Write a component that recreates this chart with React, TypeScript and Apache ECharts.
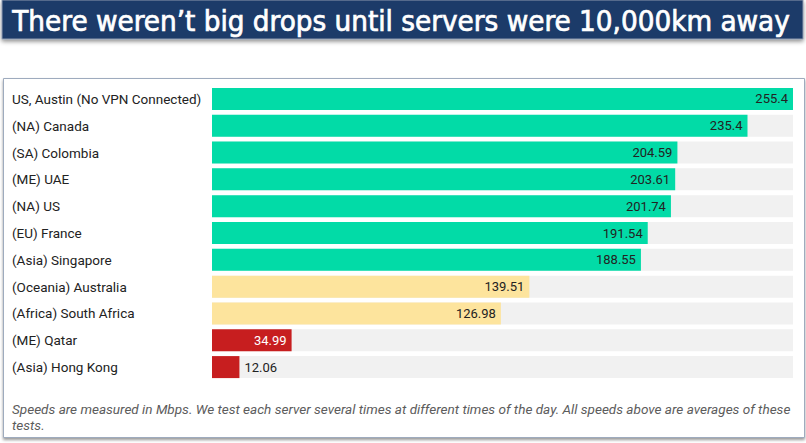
import React, { useEffect, useRef } from "react";
import * as echarts from "echarts";

const categories = [
  "US, Austin (No VPN Connected)",
  "(NA) Canada",
  "(SA) Colombia",
  "(ME) UAE",
  "(NA) US",
  "(EU) France",
  "(Asia) Singapore",
  "(Oceania) Australia",
  "(Africa) South Africa",
  "(ME) Qatar",
  "(Asia) Hong Kong",
];
const speeds = [255.4, 235.4, 204.59, 203.61, 201.74, 191.54, 188.55, 139.51, 126.98, 34.99, 12.06];
const tiers = ["fast", "fast", "fast", "fast", "fast", "fast", "fast", "mid", "mid", "slow", "slow"];
const titleText = "There weren\u2019t big drops until servers were 10,000km away";
const footnoteLines = [
  "Speeds are measured in Mbps. We test each server several times at different times of the day. All speeds above are averages of these",
  "tests.",
];

const tierColors: Record<string, string> = { fast: "#02dba7", mid: "#fde49d", slow: "#c71e1f" };

function measure(text: string, font: string): number {
  const c = document.createElement("canvas").getContext("2d");
  if (!c) return 0;
  c.font = font;
  return c.measureText(text).width;
}

export default function App() {
  const ref = useRef<HTMLDivElement>(null);
  useEffect(() => {
    if (!ref.current) return;
    const chart = echarts.init(ref.current, null, { renderer: "svg" });
    const maxV = Math.max(...speeds);
    const titleFont = "29px 'DejaVu Sans Condensed', 'Liberation Sans Narrow', sans-serif";
    const tw = measure(titleText, titleFont);
    const titleScale = tw > 0 ? 778 / tw : 1;
    const footFont = "italic 13px Roboto, sans-serif";
    const fw = measure(footnoteLines[0], footFont);
    const footScale = fw > 0 ? 780 / fw : 1;
    chart.setOption({
      animation: false,
      backgroundColor: "#ffffff",
      graphic: [
        {
          type: "rect",
          shape: { x: 2, y: 0, width: 801, height: 39 },
          style: { fill: "#1b3a69", stroke: "#8e9bb0", lineWidth: 1, shadowBlur: 4, shadowOffsetY: 2, shadowColor: "rgba(0,0,0,0.45)" },
          z: 0,
        },
        {
          type: "text",
          x: 401,
          y: 21,
          scaleX: titleScale,
          style: {
            text: titleText,
            fill: "#ffffff",
            font: titleFont,
            align: "center",
            verticalAlign: "middle",
            stroke: "#ffffff",
            lineWidth: 0.7,
          },
          z: 1,
        },
        {
          type: "rect",
          shape: { x: 3.5, y: 78.5, width: 801, height: 359 },
          style: { fill: "#ffffff", stroke: "#9eabbe", lineWidth: 1, shadowBlur: 3, shadowOffsetY: 2, shadowColor: "rgba(0,0,0,0.4)" },
          z: -1,
        },
        {
          type: "text",
          x: 12,
          y: 402,
          scaleX: footScale,
          style: {
            text: footnoteLines.join("\n"),
            fill: "#5c5c5c",
            font: footFont,
            lineHeight: 16,
          },
          z: 1,
        },
      ],
      grid: { left: 212, right: 13, top: 85.5, bottom: 62.5, containLabel: false },
      xAxis: {
        type: "value",
        min: 0,
        max: maxV,
        show: false,
      },
      yAxis: {
        type: "category",
        data: categories,
        inverse: true,
        axisLine: { show: false },
        axisTick: { show: false },
        axisLabel: {
          align: "left",
          margin: 200,
          color: "#222222",
          fontSize: 13.5,
          fontFamily: "Roboto, sans-serif",
        },
      },
      series: [
        {
          type: "bar",
          barWidth: 22,
          showBackground: true,
          backgroundStyle: { color: "#f1f1f1" },
          data: speeds.map((v, i) => {
            const tier = tiers[i];
            const outside = v < 20;
            return {
              value: v,
              itemStyle: { color: tierColors[tier] },
              label: {
                show: true,
                position: outside ? "right" : "insideRight",
                distance: 5,
                color: tier === "slow" && !outside ? "#ffffff" : "#222222",
                fontSize: 13,
                fontFamily: "Roboto, sans-serif",
              },
            };
          }),
        },
      ],
    });
    return () => chart.dispose();
  }, []);
  return (
    <div
      ref={ref}
      style={{ position: "absolute", left: 0, top: 0, width: 806, height: 443 }}
    />
  );
}
